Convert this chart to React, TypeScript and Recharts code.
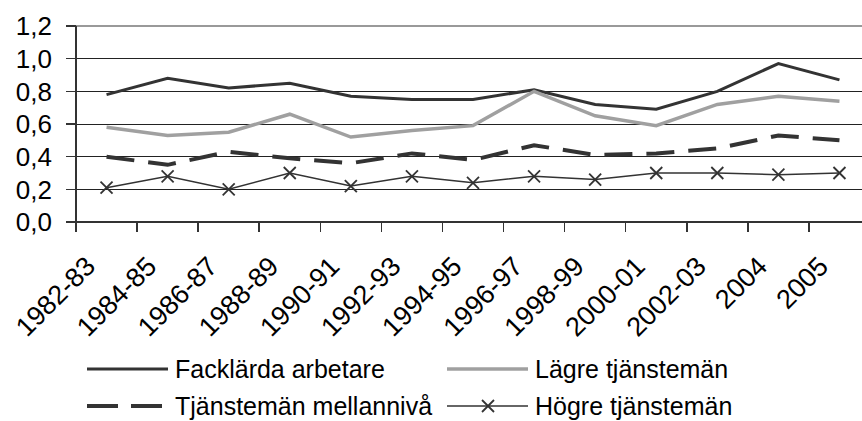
import * as React from "react"
import {
  LineChart,
  Line,
  XAxis,
  YAxis,
  CartesianGrid,
  ReferenceLine,
} from "recharts"

const categories = [
  "1982-83", "1984-85", "1986-87", "1988-89", "1990-91", "1992-93", "1994-95",
  "1996-97", "1998-99", "2000-01", "2002-03", "2004", "2005",
]
const facklarda = [0.78, 0.88, 0.82, 0.85, 0.77, 0.75, 0.75, 0.81, 0.72, 0.69, 0.8, 0.97, 0.87]
const lagre = [0.58, 0.53, 0.55, 0.66, 0.52, 0.56, 0.59, 0.8, 0.65, 0.59, 0.72, 0.77, 0.74]
const mellan = [0.4, 0.35, 0.43, 0.39, 0.36, 0.42, 0.38, 0.47, 0.41, 0.42, 0.45, 0.53, 0.5]
const hogre = [0.21, 0.28, 0.2, 0.3, 0.22, 0.28, 0.24, 0.28, 0.26, 0.3, 0.3, 0.29, 0.3]
const yTicks = [0, 0.2, 0.4, 0.6, 0.8, 1.0, 1.2]

const data = categories.map((period, i) => ({
  period,
  facklarda: facklarda[i],
  lagre: lagre[i],
  mellan: mellan[i],
  hogre: hogre[i],
}))

const FONT = "'Liberation Sans', Arial, sans-serif"
const DARK = "#333333"
const GRAY = "#a0a0a0"

const series = [
  { key: "facklarda", name: "Facklärda arbetare", color: DARK, width: 3 },
  { key: "lagre", name: "Lägre tjänstemän", color: GRAY, width: 3.5 },
  { key: "mellan", name: "Tjänstemän mellannivå", color: DARK, width: 4, dash: "28 14" },
  { key: "hogre", name: "Högre tjänstemän", color: DARK, width: 1.5, cross: true },
]

function Cross({ cx, cy }: any) {
  if (cx == null || cy == null) return null
  const s = 6
  return (
    <g stroke={DARK} strokeWidth={1.8}>
      <line x1={cx - s} y1={cy - s} x2={cx + s} y2={cy + s} />
      <line x1={cx - s} y1={cy + s} x2={cx + s} y2={cy - s} />
    </g>
  )
}

function XTick({ x, y, payload }: any) {
  const off = payload && payload.offset ? payload.offset : 30.54
  const tx = x - 9.6
  const ty = y + 46
  return (
    <g>
      <line
        x1={x - off}
        y1={y}
        x2={x - off}
        y2={y + 10}
        stroke={DARK}
        strokeWidth={1.5}
        shapeRendering="crispEdges"
      />
      <text
        x={tx}
        y={ty}
        transform={`rotate(-45, ${tx}, ${ty})`}
        textAnchor="end"
        fontSize={27}
        fontFamily={FONT}
        fill="#000"
      >
        {payload.value}
      </text>
    </g>
  )
}

function LegendIcon({ s }: any) {
  return (
    <svg width={82} height={30} style={{ display: "block" }}>
      <line
        x1={0}
        y1={15}
        x2={81}
        y2={15}
        stroke={s.color}
        strokeWidth={s.width}
        strokeDasharray={s.dash ? "31 13" : undefined}
      />
      {s.cross && <Cross cx={41} cy={15} />}
    </svg>
  )
}

export default function App() {
  const positions = [
    { left: 87, top: 354 },
    { left: 447, top: 354 },
    { left: 87, top: 391 },
    { left: 447, top: 391 },
  ]
  return (
    <div
      style={{
        position: "absolute",
        left: 0,
        top: 0,
        width: 862,
        height: 421,
        overflow: "hidden",
        background: "#fff",
        fontFamily: FONT,
      }}
    >
      <LineChart
        width={870}
        height={421}
        data={data}
        margin={{ top: 26, right: 0, bottom: 0, left: 0 }}
      >
        <CartesianGrid vertical={false} stroke="#222" strokeWidth={1} shapeRendering="crispEdges" />
        <ReferenceLine y={1.2} stroke="#999" strokeWidth={2} shapeRendering="crispEdges" />
        <XAxis
          dataKey="period"
          scale="band"
          interval={0}
          height={199}
          tickLine={false}
          tickSize={0}
          tickMargin={0}
          axisLine={{ stroke: DARK, strokeWidth: 2, shapeRendering: "crispEdges" }}
          tick={<XTick />}
        />
        <YAxis
          domain={[0, 1.2]}
          ticks={yTicks}
          interval={0}
          width={76}
          tickSize={10}
          tickMargin={14}
          tickLine={{ stroke: DARK, strokeWidth: 1.5, shapeRendering: "crispEdges" }}
          axisLine={{ stroke: DARK, strokeWidth: 2, shapeRendering: "crispEdges" }}
          tickFormatter={(v: number) => v.toFixed(1).replace(".", ",")}
          tick={{ fontSize: 26, fontFamily: FONT, fill: "#000" }}
        />
        {series.map((s) => (
          <Line
            key={s.key}
            type="linear"
            dataKey={s.key}
            name={s.name}
            stroke={s.color}
            strokeWidth={s.width}
            strokeDasharray={s.dash}
            dot={s.cross ? <Cross /> : false}
            activeDot={false}
            isAnimationActive={false}
          />
        ))}
      </LineChart>
      {series.map((s, i) => (
        <div
          key={s.key}
          style={{
            position: "absolute",
            left: positions[i].left,
            top: positions[i].top,
            display: "flex",
            alignItems: "center",
            height: 30,
            fontSize: 25,
            color: "#000",
            whiteSpace: "nowrap",
          }}
        >
          <LegendIcon s={s} />
          <span style={{ marginLeft: 6 }}>{s.name}</span>
        </div>
      ))}
    </div>
  )
}
